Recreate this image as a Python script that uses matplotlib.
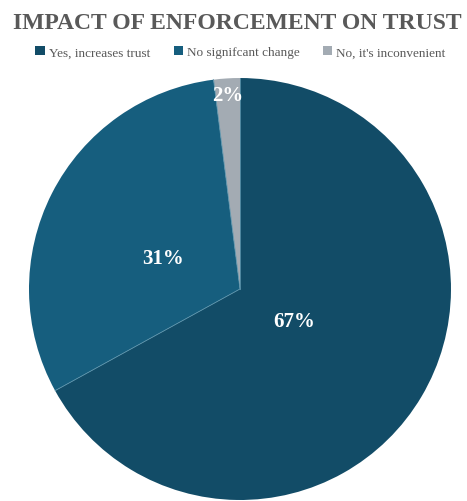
import matplotlib.pyplot as plt
import numpy as np

labels = ["Yes, increases trust", "No signifcant change", "No, it's inconvenient"]
shares = [67, 31, 2]
colors = ["#124c67", "#165e7e", "#a3abb3"]
label_dist = [0.30, 0.41, 0.92]
label_dy = [0.0, -0.04, 0.0]

plt.rcParams['font.family'] = ['Liberation Serif', 'DejaVu Serif']

fig = plt.figure(figsize=(4.67, 5.02), dpi=100)
ax = fig.add_axes([0.0621, 0.002, 0.9036, 0.8406])

wedges, _ = ax.pie(shares, colors=colors, startangle=90, counterclock=False,
                   radius=1.0, wedgeprops=dict(linewidth=0))
ax.set_xlim(-1, 1)
ax.set_ylim(-1, 1)
ax.set_aspect('equal')
ax.axis('off')

# thin light seams from the centre out along each slice border
for w in wedges:
    a = np.deg2rad(w.theta1)
    ax.plot([0, np.cos(a)], [0, np.sin(a)], color='#5b93ab', lw=0.6)

# percentage labels placed along each wedge's middle angle
for w, v, d, dy in zip(wedges, shares, label_dist, label_dy):
    ang = np.deg2rad((w.theta1 + w.theta2) / 2)
    ax.text(d * np.cos(ang), d * np.sin(ang) + dy, f"{v}%", ha='center', va='center',
            color='white', fontsize=15, fontweight='bold')

fig.text(0.508, 0.953, "IMPACT OF ENFORCEMENT ON TRUST", ha='center', va='center',
         fontsize=17, fontweight='bold', color='#595959')

fig.legend(wedges, labels, loc='center', bbox_to_anchor=(0.515, 0.894), ncol=3,
           frameon=False, fontsize=9.5, labelcolor='#595959', handlelength=0.7,
           handleheight=0.7, handletextpad=0.3, columnspacing=1.8)

fig.savefig("out.png", dpi=100)
